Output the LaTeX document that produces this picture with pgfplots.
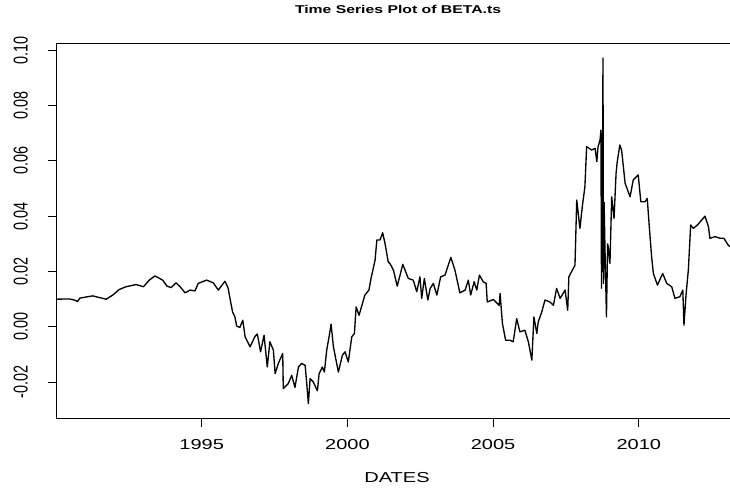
\documentclass[border=0pt]{standalone}
\usepackage{fontspec}
\setmainfont{Liberation Sans}
\usepackage{pgfplots}
\usepackage{pgfplotstable}
\pgfplotsset{compat=1.18}
\pgfplotstableread{
year v
1990.00 0.0100
1990.46 0.0101
1990.63 0.0097
1990.74 0.0092
1990.82 0.0104
1991.26 0.0112
1991.49 0.0106
1991.72 0.0100
1991.95 0.0115
1992.17 0.0135
1992.40 0.0145
1992.75 0.0153
1993.00 0.0145
1993.20 0.0169
1993.39 0.0184
1993.52 0.0177
1993.66 0.0169
1993.81 0.0147
1993.95 0.0142
1994.12 0.0159
1994.26 0.0145
1994.43 0.0123
1994.60 0.0133
1994.77 0.0130
1994.88 0.0157
1995.17 0.0169
1995.40 0.0159
1995.57 0.0133
1995.80 0.0165
1995.91 0.0139
1995.97 0.0103
1996.06 0.0054
1996.14 0.0036
1996.20 0.0003
1996.31 -0.0002
1996.41 0.0024
1996.49 -0.0036
1996.66 -0.0072
1996.83 -0.0034
1996.91 -0.0026
1997.02 -0.0090
1997.14 -0.0030
1997.25 -0.0145
1997.34 -0.0054
1997.46 -0.0084
1997.52 -0.0169
1997.63 -0.0132
1997.78 -0.0096
1997.80 -0.0223
1997.97 -0.0205
1998.09 -0.0175
1998.20 -0.0219
1998.32 -0.0145
1998.43 -0.0132
1998.55 -0.0139
1998.60 -0.0199
1998.66 -0.0277
1998.72 -0.0187
1998.83 -0.0199
1998.97 -0.0231
1999.03 -0.0169
1999.14 -0.0145
1999.21 -0.0163
1999.29 -0.0084
1999.37 -0.0036
1999.44 0.0010
1999.52 -0.0072
1999.69 -0.0163
1999.83 -0.0102
1999.92 -0.0090
2000.03 -0.0127
2000.15 -0.0036
2000.24 -0.0024
2000.30 0.0072
2000.40 0.0042
2000.60 0.0115
2000.74 0.0133
2000.81 0.0175
2000.95 0.0241
2001.01 0.0314
2001.12 0.0314
2001.21 0.0340
2001.29 0.0302
2001.40 0.0235
2001.46 0.0229
2001.58 0.0205
2001.71 0.0147
2001.90 0.0226
2002.09 0.0175
2002.26 0.0169
2002.38 0.0127
2002.49 0.0181
2002.55 0.0103
2002.64 0.0175
2002.76 0.0097
2002.84 0.0139
2002.95 0.0157
2003.07 0.0115
2003.20 0.0181
2003.35 0.0187
2003.55 0.0251
2003.69 0.0205
2003.86 0.0123
2004.04 0.0133
2004.15 0.0169
2004.23 0.0115
2004.35 0.0163
2004.44 0.0133
2004.53 0.0187
2004.66 0.0163
2004.76 0.0157
2004.80 0.0090
2005.01 0.0099
2005.21 0.0078
2005.24 0.0121
2005.32 0.0012
2005.43 -0.0048
2005.58 -0.0048
2005.69 -0.0054
2005.81 0.0030
2005.92 -0.0018
2006.09 -0.0012
2006.21 -0.0054
2006.33 -0.0120
2006.40 0.0036
2006.50 -0.0024
2006.55 0.0018
2006.67 0.0054
2006.78 0.0097
2006.95 0.0090
2007.07 0.0078
2007.18 0.0139
2007.30 0.0103
2007.47 0.0133
2007.56 0.0060
2007.60 0.0181
2007.81 0.0223
2007.87 0.0458
2007.98 0.0356
2008.06 0.0434
2008.15 0.0506
2008.21 0.0651
2008.38 0.0639
2008.50 0.0645
2008.56 0.0597
2008.60 0.0650
2008.67 0.0675
2008.70 0.0711
2008.72 0.0140
2008.74 0.0700
2008.75 0.0200
2008.77 0.0971
2008.79 0.0157
2008.81 0.0450
2008.84 0.0280
2008.89 0.0036
2008.93 0.0300
2008.95 0.0289
2009.01 0.0229
2009.07 0.0470
2009.15 0.0392
2009.22 0.0555
2009.26 0.0597
2009.35 0.0657
2009.41 0.0639
2009.53 0.0519
2009.70 0.0470
2009.81 0.0531
2009.98 0.0549
2010.07 0.0452
2010.21 0.0452
2010.29 0.0464
2010.36 0.0362
2010.44 0.0253
2010.50 0.0193
2010.64 0.0151
2010.82 0.0193
2010.96 0.0157
2011.13 0.0145
2011.24 0.0103
2011.41 0.0109
2011.51 0.0133
2011.55 0.0006
2011.62 0.0115
2011.70 0.0205
2011.78 0.0368
2011.87 0.0356
2012.01 0.0368
2012.16 0.0386
2012.27 0.0400
2012.39 0.0362
2012.44 0.0320
2012.62 0.0326
2012.79 0.0320
2012.92 0.0320
2013.07 0.0295
2013.13 0.0290
}\betats
\begin{document}
\begin{tikzpicture}[x=0.75pt,y=0.75pt]
\useasboundingbox (0,0) rectangle (730,489);
\begin{axis}[
  at={(42pt,52.875pt)}, anchor=south west,
  scale only axis, width=505.5pt, height=280.875pt,
  xmin=1990.0, xmax=2013.13, ymin=-0.0331, ymax=0.1022,
  axis x line*=bottom, axis y line*=left,
  axis line style={line width=0.75pt, black},
  clip=false,
  tick align=outside, major tick length=6.3pt,
  tick style={line width=0.75pt, black},
  xtick={1995,2000,2005,2010},
  ytick={-0.02,0,0.02,0.04,0.06,0.08,0.10},
  minor tick num=0,
  /pgf/number format/assume math mode=true,
  xticklabel style={/pgf/number format/1000 sep={}, font=\fontsize{10.8}{13}\selectfont, xscale=1.39, anchor=base, yshift=-17pt},
  yticklabel style={xshift=-15pt, /pgf/number format/fixed, /pgf/number format/fixed zerofill, /pgf/number format/precision=2, font=\fontsize{10.8}{13}\selectfont, xscale=1.39, rotate=90, anchor=base},
]
\addplot[black, line width=1pt, line join=round] table[x=year, y=v] {\betats};
\draw[line width=0.75pt] (rel axis cs:0,1) -- (rel axis cs:1,1);
\end{axis}
\node[font=\bfseries\fontsize{8.5}{10}\selectfont, xscale=1.39, anchor=base] at (398,475) {Time Series Plot of BETA.ts};
\node[font=\fontsize{10.8}{13}\selectfont, xscale=1.39, anchor=base] at (397,6.3) {DATES};
\end{tikzpicture}
\end{document}
